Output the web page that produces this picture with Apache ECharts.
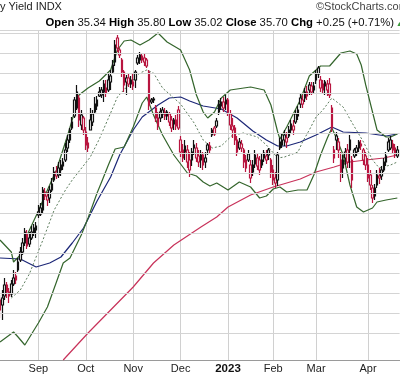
<!DOCTYPE html>
<html>
<head>
    <meta charset="utf-8">
    <title>Yield INDX</title>
    <script src="https://cdn.jsdelivr.net/npm/echarts@6/dist/echarts.min.js"></script>
    <style>
        html, body { margin: 0; padding: 0; background: #fff; }
    </style>
</head>
<body>
<div id="main" style="width: 400px;height:376px;"></div>
<script type="text/javascript">
    // trading days: first shown day, market holidays skipped
    var startDay = '2022-08-09';
    var dayCount = 178;
    var holidays = ['2022-09-05', '2022-11-24', '2022-12-26', '2023-01-02', '2023-01-16', '2023-02-20', '2023-04-07'];
    var monthNames = ['Jan', 'Feb', 'Mar', 'Apr', 'May', 'Jun', 'Jul', 'Aug', 'Sep', 'Oct', 'Nov', 'Dec'];

    // daily candles: [open, close, low, high]
    var candles = [
        [29.65, 29.15, 28.75, 29.90], [29.40, 29.75, 28.65, 30.15], [29.85, 30.40, 29.65, 30.75], [30.40, 30.05, 29.75, 30.55],
        [30.05, 29.85, 29.50, 30.25], [29.95, 30.45, 29.80, 30.65], [30.45, 30.75, 30.35, 31.15], [30.85, 30.65, 30.45, 31.05],
        [31.15, 31.55, 31.05, 31.75], [31.65, 32.05, 31.55, 32.30], [32.05, 32.50, 31.90, 32.75], [32.50, 33.05, 32.35, 33.25],
        [32.95, 32.35, 32.20, 33.15], [32.45, 32.75, 32.30, 33.05], [32.75, 33.05, 32.65, 33.35], [33.00, 33.25, 32.85, 33.45],
        [33.15, 33.35, 32.75, 33.55],
        // Sep
        [34.05, 33.90, 33.75, 34.40], [33.95, 34.25, 33.85, 34.50], [34.15, 35.15, 34.00, 35.30], [35.05, 34.85, 34.65, 35.25],
        [34.85, 34.65, 34.35, 35.05], [34.75, 35.15, 34.50, 35.35], [35.15, 35.45, 35.05, 35.75], [35.65, 36.05, 35.55, 36.30],
        [36.05, 35.85, 35.70, 36.35], [35.90, 36.25, 35.75, 36.55], [36.15, 36.40, 35.85, 36.65], [36.35, 36.55, 36.15, 36.75],
        [36.65, 37.15, 36.55, 37.50], [37.25, 37.65, 37.05, 37.90], [37.65, 38.15, 37.50, 38.25], [38.55, 38.25, 38.15, 38.80],
        [38.85, 39.65, 38.75, 39.80], [39.25, 40.05, 39.15, 40.40], [39.75, 38.65, 38.30, 39.90], [38.40, 38.90, 38.15, 39.15],
        [38.75, 38.15, 37.90, 38.85],
        // Oct
        [38.05, 37.40, 37.15, 38.30], [37.50, 37.25, 37.05, 37.80], [38.15, 38.65, 38.15, 39.25], [38.55, 38.95, 38.35, 39.15],
        [39.05, 39.45, 39.00, 39.80], [39.35, 39.65, 39.15, 39.85], [40.05, 39.85, 39.80, 40.30], [39.90, 40.15, 39.75, 40.30],
        [40.05, 40.45, 39.55, 40.65], [40.25, 40.00, 39.80, 40.65], [40.15, 40.65, 40.05, 41.00], [40.55, 40.85, 40.15, 41.15],
        [41.05, 41.40, 41.00, 41.65], [41.55, 42.40, 41.35, 42.65], [42.75, 42.25, 42.05, 42.90], [41.90, 42.15, 41.75, 42.25],
        [41.65, 41.05, 40.80, 41.75], [41.05, 40.40, 40.05, 41.15], [40.55, 40.75, 39.90, 40.90], [40.75, 40.45, 40.30, 41.00],
        [40.45, 40.65, 40.25, 40.85],
        // Nov
        [40.55, 40.35, 40.15, 40.95], [40.65, 41.05, 40.25, 41.15], [41.50, 41.75, 41.40, 41.90], [41.65, 41.90, 41.45, 42.05],
        [41.85, 41.65, 41.50, 42.00], [41.75, 41.55, 41.35, 41.95], [41.65, 41.35, 41.25, 41.75], [41.05, 39.40, 39.15, 41.15],
        [39.65, 39.55, 39.45, 39.75], [39.70, 39.65, 39.50, 39.80], [39.25, 38.75, 38.55, 39.40], [38.75, 38.35, 38.15, 39.05],
        [38.75, 39.05, 38.55, 39.25], [38.95, 39.15, 38.75, 39.30], [39.05, 38.85, 38.65, 39.25], [38.85, 39.05, 38.65, 39.15],
        [38.95, 38.55, 38.35, 39.05], [38.65, 38.25, 38.05, 38.85], [38.45, 38.65, 38.15, 38.75], [38.65, 38.35, 38.15, 38.90],
        [39.15, 38.25, 38.15, 39.35],
        // Dec
        [37.65, 37.05, 36.80, 37.85], [37.15, 36.75, 36.55, 37.45], [37.05, 37.35, 36.65, 37.65], [37.15, 36.55, 36.25, 37.40],
        [36.65, 36.15, 35.80, 37.05], [36.65, 37.05, 36.35, 37.25], [37.25, 37.40, 36.90, 37.65], [37.25, 36.75, 36.55, 37.50],
        [36.85, 36.55, 36.30, 37.15], [36.65, 36.90, 36.25, 37.15], [36.90, 36.40, 36.15, 37.05], [36.55, 36.75, 36.25, 37.05],
        [37.15, 37.40, 36.90, 37.50], [37.35, 37.15, 37.00, 37.55], [37.90, 38.15, 37.80, 38.25], [38.25, 37.95, 37.85, 38.35],
        [38.35, 38.60, 38.25, 38.75], [39.05, 39.45, 38.90, 39.65], [39.35, 39.55, 39.15, 39.75], [39.55, 39.25, 39.05, 39.80],
        [39.45, 39.65, 39.15, 39.90],
        // Jan
        [39.65, 39.05, 38.85, 39.75], [38.95, 38.40, 38.15, 39.15], [38.15, 38.35, 37.75, 38.75], [38.25, 37.65, 37.40, 38.40],
        [37.65, 37.05, 36.85, 37.85], [37.25, 37.55, 37.15, 37.75], [37.45, 37.25, 37.05, 37.65], [37.15, 36.55, 36.25, 37.25],
        [36.65, 36.25, 36.05, 36.90], [36.65, 36.95, 36.55, 37.15], [36.40, 35.75, 35.50, 36.65], [36.05, 36.40, 35.85, 36.65],
        [36.45, 36.90, 36.25, 37.15], [36.75, 36.35, 36.15, 36.95], [36.65, 36.15, 35.90, 36.85], [36.40, 36.65, 36.25, 36.95],
        [36.75, 37.00, 36.55, 37.15], [36.85, 36.65, 36.45, 37.15], [36.90, 37.15, 36.65, 37.25], [36.65, 36.05, 35.75, 36.75],
        // Feb
        [36.15, 35.65, 35.40, 36.40], [35.75, 35.50, 35.25, 36.05], [35.65, 36.90, 35.35, 37.05], [37.25, 37.55, 37.15, 37.75],
        [37.40, 37.65, 37.25, 37.95], [37.65, 37.90, 37.35, 38.15], [37.75, 37.55, 37.25, 38.05], [37.85, 38.15, 37.75, 38.35],
        [38.15, 38.45, 37.95, 38.65], [38.35, 38.15, 37.90, 38.65], [38.55, 38.95, 38.45, 39.15], [38.85, 39.15, 38.65, 39.35],
        [39.45, 39.75, 39.25, 39.95], [39.65, 39.45, 39.25, 39.90], [39.75, 40.05, 39.55, 40.25], [40.05, 39.85, 39.65, 40.35],
        [40.15, 40.40, 39.90, 40.55], [40.35, 40.05, 39.90, 40.55], [40.15, 40.35, 39.95, 40.55],
        // Mar
        [40.65, 40.95, 40.45, 41.15], [40.95, 41.25, 40.75, 41.35], [40.65, 40.25, 40.05, 40.85], [40.45, 40.15, 39.95, 40.65],
        [40.35, 40.55, 39.90, 40.65], [40.45, 40.15, 39.85, 40.65], [40.45, 39.90, 39.75, 40.75], [39.25, 38.25, 38.05, 39.40],
        [37.15, 36.75, 36.50, 37.35], [37.65, 37.85, 37.15, 38.05], [37.15, 37.55, 36.75, 37.75], [36.65, 36.05, 35.55, 37.05],
        [36.25, 36.65, 35.75, 36.90], [36.75, 37.05, 36.40, 37.25], [37.15, 36.55, 36.25, 37.45], [37.65, 37.15, 36.25, 37.90],
        [36.65, 35.65, 35.25, 36.85], [36.85, 37.15, 36.75, 37.25], [37.05, 37.25, 36.85, 37.40], [37.25, 37.55, 37.05, 37.65],
        [37.45, 37.35, 37.15, 37.65], [37.15, 36.65, 36.40, 37.25], [36.85, 36.40, 36.15, 37.05],
        // Apr
        [36.40, 35.75, 35.55, 36.75], [35.90, 35.40, 35.15, 36.15], [35.25, 34.75, 34.50, 35.40], [34.85, 35.25, 34.65, 35.45],
        [35.40, 35.90, 35.25, 36.15], [35.85, 35.75, 35.45, 36.25], [35.85, 36.15, 35.65, 36.35], [36.15, 36.55, 36.05, 36.75],
        [36.55, 36.85, 36.35, 37.05], [37.15, 37.55, 37.05, 37.75], [37.25, 37.65, 37.15, 37.85], [37.45, 37.15, 36.95, 37.65],
        [37.25, 36.95, 36.75, 37.45], [36.85, 37.15, 36.75, 37.35]
    ];

    // overlays: [day index, value]
    var sma20 = [[5, 29.75], [9, 30.15], [13, 30.95], [19, 32.65], [24, 34.15], [29, 35.15], [32, 35.65], [40, 36.80],
        [44, 37.70], [49, 39.00], [52, 39.80], [54, 40.05], [59, 40.65], [62, 41.00], [65, 41.15], [68, 41.00], [72, 40.25],
        [75, 39.95], [80, 39.45], [86, 38.50], [90, 37.65], [94, 37.25], [98, 37.35], [103, 37.90], [108, 38.00], [114, 37.80],
        [118, 37.40], [123, 36.75], [126, 36.80], [132, 37.05], [134, 37.55], [137, 38.15], [140, 38.80], [143, 39.15],
        [147, 39.75], [152, 39.30], [156, 38.50], [161, 37.55], [165, 36.65], [168, 36.25], [173, 36.40], [176, 36.55]];
    var bbUpper = [[0, 32.65], [5, 32.05], [6, 31.55], [9, 31.90], [12, 32.90], [17, 34.10], [21, 35.15], [25, 36.15],
        [30, 37.90], [33, 39.05], [35, 39.90], [39, 40.25], [44, 40.60], [49, 41.15], [52, 42.15], [55, 42.60], [58, 42.65],
        [62, 42.40], [66, 42.65], [70, 43.00], [74, 42.55], [80, 42.15], [84, 41.15], [87, 39.90], [90, 39.05], [92, 38.75],
        [95, 39.05], [98, 39.75], [102, 40.15], [111, 40.30], [117, 40.15], [120, 39.40], [123, 38.05], [124, 37.70],
        [127, 38.30], [133, 39.65], [137, 40.85], [142, 41.35], [146, 41.35], [151, 42.00], [155, 42.10], [158, 41.95],
        [160, 41.40], [162, 40.40], [165, 39.05], [167, 38.15], [171, 37.80], [173, 37.80], [176, 37.95]];
    var bbLower = [[0, 27.55], [6, 28.05], [8, 27.80], [11, 27.40], [17, 28.50], [21, 29.30], [25, 30.55], [28, 31.50],
        [31, 31.75], [36, 32.90], [39, 33.75], [43, 35.00], [45, 35.55], [48, 36.40], [51, 37.20], [55, 37.30], [59, 38.30],
        [63, 39.50], [65, 39.80], [68, 38.90], [72, 37.90], [77, 36.90], [83, 36.00], [87, 35.85], [90, 35.55], [93, 35.35],
        [96, 35.50], [101, 35.15], [106, 35.55], [111, 35.30], [115, 34.75], [118, 34.85], [121, 35.20], [124, 35.30],
        [127, 35.05], [132, 35.15], [136, 35.15], [139, 35.90], [142, 36.90], [145, 37.75], [147, 38.25], [149, 37.75],
        [152, 36.90], [155, 35.40], [158, 34.30], [161, 34.05], [165, 34.25], [167, 34.55], [171, 34.65], [176, 34.75]];
    var ma50 = [[0, 31.75], [9, 31.70], [16, 31.30], [22, 31.50], [27, 31.80], [32, 32.50], [37, 33.25], [43, 34.60],
        [49, 35.80], [53, 36.90], [59, 38.15], [63, 38.80], [70, 39.40], [75, 39.75], [80, 39.80], [84, 39.60], [90, 39.35],
        [98, 39.20], [105, 38.75], [112, 38.10], [118, 37.65], [123, 37.35], [127, 37.35], [133, 37.55], [140, 37.90],
        [147, 38.30], [152, 38.05], [162, 38.00], [171, 37.85], [176, 37.95]];
    var ma200 = [[28, 26.65], [39, 28.00], [49, 29.15], [59, 30.30], [68, 31.50], [77, 32.40], [89, 33.30], [96, 33.80],
        [101, 34.30], [111, 34.90], [121, 35.30], [133, 35.70], [140, 36.05], [148, 36.30], [155, 36.55], [162, 36.65],
        [170, 36.75], [176, 36.90]];

    var gridValues = [28, 29, 30, 31, 32, 33, 34, 35, 36, 37, 38, 39, 40, 41, 42, 43];
    var yMin = 26.65, yMax = 43.15;

    var RED = '#b8153f', BLACK = '#111';

    // build trading day list
    var dates = [];
    var d = new Date(startDay + 'T00:00:00Z');
    while (dates.length < dayCount) {
        var s = d.toISOString().slice(0, 10);
        var wd = d.getUTCDay();
        if (wd !== 0 && wd !== 6 && holidays.indexOf(s) < 0) dates.push(s);
        d.setUTCDate(d.getUTCDate() + 1);
    }
    function isMonthStart(i) {
        return i > 0 && dates[i].slice(5, 7) !== dates[i - 1].slice(5, 7);
    }

    // stockcharts colouring: black if close >= previous close, red otherwise; hollow if close > open
    var candleData = candles.map(function (c, i) {
        var prev = i === 0 ? c[0] : candles[i - 1][1];
        var col = c[1] >= prev ? BLACK : RED;
        return {
            value: c,
            itemStyle: {color: '#fff', color0: col, borderColor: col, borderColor0: col, borderWidth: 1.2}
        };
    });

    var myChart = echarts.init(document.getElementById('main'), null, {renderer: 'canvas'});

    var option = {
        animation: false,
        backgroundColor: '#fff',
        grid: {left: -0.42, right: 0.4, top: 30, bottom: 16},
        xAxis: {
            type: 'category',
            data: dates,
            boundaryGap: false,
            axisLine: {show: true, lineStyle: {color: '#9a9a9a', width: 1}},
            axisTick: {show: false},
            splitLine: {
                show: true,
                interval: function (i) { return isMonthStart(i); },
                lineStyle: {color: '#d0d0d0', width: 1}
            },
            axisLabel: {
                interval: function (i) { return isMonthStart(i); },
                margin: 3,
                fontFamily: 'Liberation Sans',
                fontSize: 11,
                color: '#222',
                formatter: function (v) {
                    var m = +v.slice(5, 7) - 1;
                    if (m === 0) return '{y|' + v.slice(0, 4) + '}';
                    return monthNames[m];
                },
                rich: {y: {fontWeight: 'bold', fontSize: 11.5, fontFamily: 'Liberation Sans', color: '#111'}}
            }
        },
        yAxis: {
            type: 'value',
            min: yMin,
            max: yMax,
            position: 'right',
            axisLine: {show: false},
            axisTick: {show: false},
            axisLabel: {show: false},
            splitLine: {show: false}
        },
        graphic: [
            {type: 'text', x: 0, y: 1, style: {text: 'y Yield INDX', font: '11px "Liberation Sans"', fill: '#222'}},
            {type: 'text', x: 316, y: 1, style: {text: '\u00a9StockCharts.com', font: '11px "Liberation Sans"', fill: '#444'}},
            {
                type: 'text', x: 394, y: 23,
                style: {
                    text: '{b|Open} 35.34 {b|High} 35.80 {b|Low} 35.02 {b|Close} 35.70 {b|Chg} +0.25 (+0.71%)',
                    align: 'right', verticalAlign: 'middle',
                    fontSize: 11.3, fontFamily: 'Liberation Sans', fill: '#111',
                    rich: {b: {fontWeight: 'bold', fontSize: 11.3, fontFamily: 'Liberation Sans', fill: '#000'}}
                }
            },
            {type: 'text', x: 396, y: 24, style: {text: '\u25b2', fontSize: 7, fill: '#3a9a3a', verticalAlign: 'middle'}}
        ],
        series: [
            {
                name: 'grid',
                type: 'line',
                data: [],
                z: 0,
                silent: true,
                markLine: {
                    silent: true,
                    symbol: 'none',
                    label: {show: false},
                    lineStyle: {color: '#d4d4d4', type: 'solid', width: 1},
                    data: gridValues.concat([yMax]).map(function (v) { return {yAxis: v}; })
                }
            },
            {
                name: '200 MA',
                type: 'line',
                data: ma200,
                showSymbol: false,
                clip: false,
                z: 2,
                lineStyle: {color: '#c8325a', width: 1.2}
            },
            {
                name: '50 MA',
                type: 'line',
                data: ma50,
                showSymbol: false,
                clip: false,
                z: 2,
                lineStyle: {color: '#1c2777', width: 1.2}
            },
            {
                name: 'BB upper',
                type: 'line',
                data: bbUpper,
                showSymbol: false,
                clip: false,
                z: 2,
                lineStyle: {color: '#34652c', width: 1.2}
            },
            {
                name: 'BB lower',
                type: 'line',
                data: bbLower,
                showSymbol: false,
                clip: false,
                z: 2,
                lineStyle: {color: '#34652c', width: 1.2}
            },
            {
                name: 'BB mid',
                type: 'line',
                data: sma20,
                showSymbol: false,
                clip: false,
                z: 2,
                lineStyle: {color: '#5d7d5d', width: 1, type: [2, 2]}
            },
            {
                name: 'price',
                type: 'candlestick',
                data: candleData,
                barWidth: 2,
                clip: false,
                z: 3
            }
        ]
    };

    myChart.setOption(option);
</script>
</body>
</html>
